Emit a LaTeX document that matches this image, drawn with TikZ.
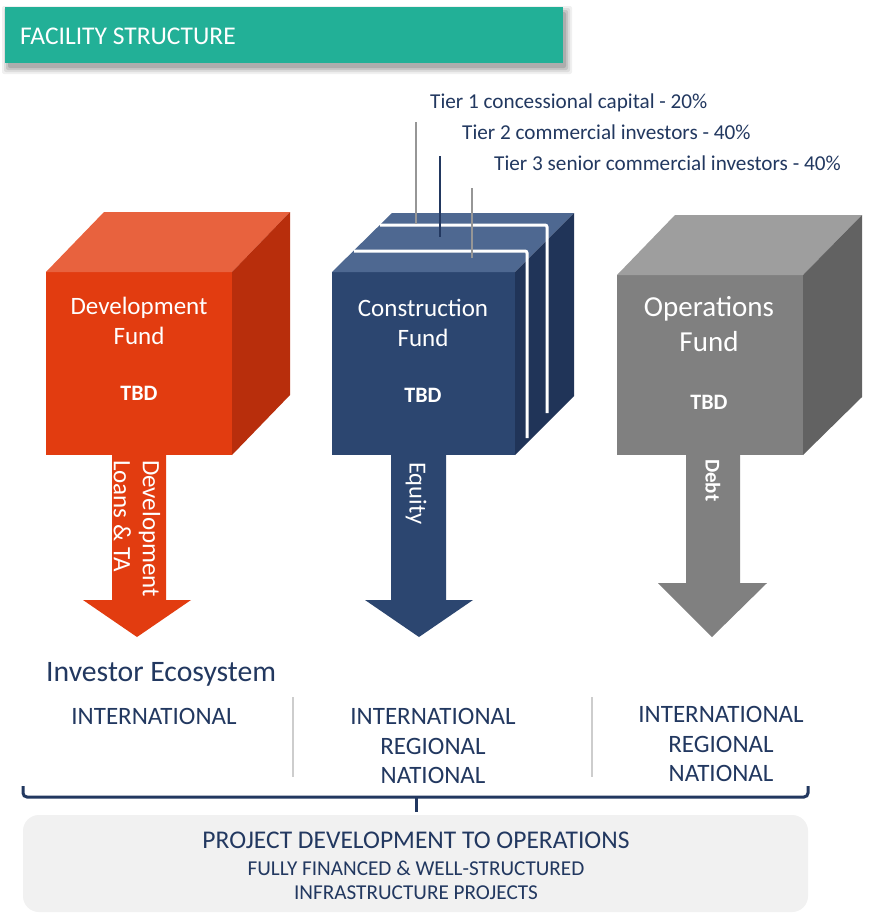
\documentclass[tikz,border=0pt]{standalone}
\usepackage{fontspec}
\setmainfont{Carlito}
\definecolor{teal1}{RGB}{34,176,151}
\definecolor{navy}{RGB}{34,56,96}
\definecolor{redF}{RGB}{226,60,16}
\definecolor{redT}{RGB}{232,98,62}
\definecolor{redR}{RGB}{184,46,12}
\definecolor{blueF}{RGB}{44,70,112}
\definecolor{blueT}{RGB}{78,104,145}
\definecolor{blueR}{RGB}{32,52,88}
\definecolor{grayF}{RGB}{128,128,128}
\definecolor{grayT}{RGB}{158,158,158}
\definecolor{grayR}{RGB}{98,98,98}
\definecolor{sepgray}{RGB}{205,205,205}
\definecolor{boxgray}{RGB}{241,241,241}
\definecolor{tiergray}{RGB}{150,150,150}
\begin{document}
\begin{tikzpicture}[x=1pt,y=-1pt,
  cubetxt/.style={text=white,align=center,inner sep=0pt,anchor=base},
  arrtxt/.style={text=white,rotate=-90,anchor=west,align=left,inner sep=0pt},
  navytxt/.style={text=navy,inner sep=0pt},
  tiertxt/.style={text=navy,inner sep=0pt,anchor=base west,font=\fontsize{21.2}{25}\selectfont},
  regtxt/.style={text=navy,inner sep=0pt,anchor=base,font=\fontsize{25}{30}\selectfont}]
\useasboundingbox (0,0) rectangle (878,913);
\fill[white] (0,0) rectangle (878,913);

% title bar with soft shadow
\foreach \s/\o in {6/0.06,4/0.08,2/0.10,0/0.12}{
  \fill[black,opacity=\o,rounded corners=2] (5+3-\s,7+5-\s) rectangle (563+3+\s,63+5+\s);
}
\fill[teal1] (5,7) rectangle (563,63);
\node[text=white,inner sep=0pt,anchor=base west,font=\fontsize{25.5}{30}\selectfont] (title) at (20,44) {FACILITY STRUCTURE};

% arrows
\fill[redF] (112,450) -- (166,450) -- (166,600) -- (191,600) -- (137,637) -- (83,600) -- (112,600) -- cycle;
\fill[blueF] (391,450) -- (446,450) -- (446,600) -- (473,600) -- (419,637) -- (365,600) -- (391,600) -- cycle;
\fill[grayF] (686,450) -- (740,450) -- (740,583) -- (767,583) -- (712,637) -- (658,583) -- (686,583) -- cycle;

% development cube
\fill[redF] (46,272) rectangle (232,455);
\fill[redT] (46,272) -- (104,212) -- (290,212) -- (232,272) -- cycle;
\fill[redR] (232,272) -- (290,212) -- (290,395) -- (232,455) -- cycle;

% construction cube
\fill[blueF] (332,272) rectangle (515,455);
\fill[blueT] (332,272) -- (392,213) -- (574,213) -- (515,272) -- cycle;
\fill[blueR] (515,272) -- (574,213) -- (574,396) -- (515,455) -- cycle;
\draw[white,line width=3pt,rounded corners=2] (354,251) -- (527,251) -- (527,438);
\draw[white,line width=3pt,rounded corners=2] (380,225) -- (547,225) -- (547,413);

% operations cube
\fill[grayF] (617,275) rectangle (803,455);
\fill[grayT] (617,275) -- (675,215) -- (862,215) -- (803,275) -- cycle;
\fill[grayR] (803,275) -- (862,215) -- (862,397) -- (803,455) -- cycle;

% tier labels and leader lines
\node[tiertxt] (t1) at (430,108) {Tier 1 concessional capital - 20\%};
\node[tiertxt] (t2) at (462,139) {Tier 2 commercial investors - 40\%};
\node[tiertxt] (t3) at (494,170) {Tier 3 senior commercial investors - 40\%};
\coordinate (l1a) at (416,122); \coordinate (l1b) at (416,224);
\coordinate (l2a) at (440,156); \coordinate (l2b) at (440,237);
\coordinate (l3a) at (472,188); \coordinate (l3b) at (472,258);
\draw[tiergray,line width=1.5pt] (l1a) -- (l1b);
\draw[navy,line width=1.5pt] (l2a) -- (l2b);
\draw[tiergray,line width=1.5pt] (l3a) -- (l3b);

% cube texts
\node[cubetxt,font=\fontsize{25}{30}\selectfont] (dev1) at (139,314) {Development};
\node[cubetxt,font=\fontsize{25}{30}\selectfont] (dev2) at (139,344) {Fund};
\node[cubetxt,font=\bfseries\fontsize{22}{26}\selectfont] (dev3) at (139,400) {TBD};
\node[cubetxt,font=\fontsize{25}{30}\selectfont] (con1) at (423,316) {Construction};
\node[cubetxt,font=\fontsize{25}{30}\selectfont] (con2) at (423,346) {Fund};
\node[cubetxt,font=\bfseries\fontsize{22}{26}\selectfont] (con3) at (423,402) {TBD};
\node[cubetxt,font=\fontsize{29}{35}\selectfont] (ops1) at (709,316) {Operations};
\node[cubetxt,font=\fontsize{29}{35}\selectfont] (ops2) at (709,351) {Fund};
\node[cubetxt,font=\bfseries\fontsize{22}{26}\selectfont] (ops3) at (709,409) {TBD};

% arrow texts
\node[arrtxt,font=\fontsize{25}{29}\selectfont] (a1) at (137,460) {Development\\Loans \& TA};
\node[arrtxt,font=\fontsize{24.5}{29}\selectfont] (a2) at (416,462) {Equity};
\node[arrtxt,font=\bfseries\fontsize{21}{25}\selectfont] (a3) at (713,459) {Debt};

% investor ecosystem
\node[navytxt,anchor=base west,font=\fontsize{29.7}{35}\selectfont] (eco) at (46,681) {Investor Ecosystem};
\node[regtxt] (c1a) at (154,724) {INTERNATIONAL};
\node[regtxt] (c2a) at (433,724) {INTERNATIONAL};
\node[regtxt] (c2b) at (433,754) {REGIONAL};
\node[regtxt] (c2c) at (433,783) {NATIONAL};
\node[regtxt] (c3a) at (721,722) {INTERNATIONAL};
\node[regtxt] (c3b) at (721,752) {REGIONAL};
\node[regtxt] (c3c) at (721,781) {NATIONAL};
\draw[sepgray,line width=1.5pt] (293,697) -- (293,777);
\draw[sepgray,line width=1.5pt] (592,697) -- (592,777);

% brace
\draw[navy,line width=3pt,rounded corners=4] (23,786) -- (23,797) -- (808,797) -- (808,786);
\draw[navy,line width=3pt] (416,797) -- (416,812);

% bottom box
\fill[boxgray,rounded corners=16] (23,815) rectangle (808,912);
\node[regtxt,font=\fontsize{25.5}{30}\selectfont] (p1) at (416,848) {PROJECT DEVELOPMENT TO OPERATIONS};
\node[navytxt,anchor=base,font=\fontsize{21.2}{25}\selectfont] (p2) at (416,875) {FULLY FINANCED \& WELL-STRUCTURED};
\node[navytxt,anchor=base,font=\fontsize{21.2}{25}\selectfont] (p3) at (416,899) {INFRASTRUCTURE PROJECTS};
\end{tikzpicture}
\end{document}
